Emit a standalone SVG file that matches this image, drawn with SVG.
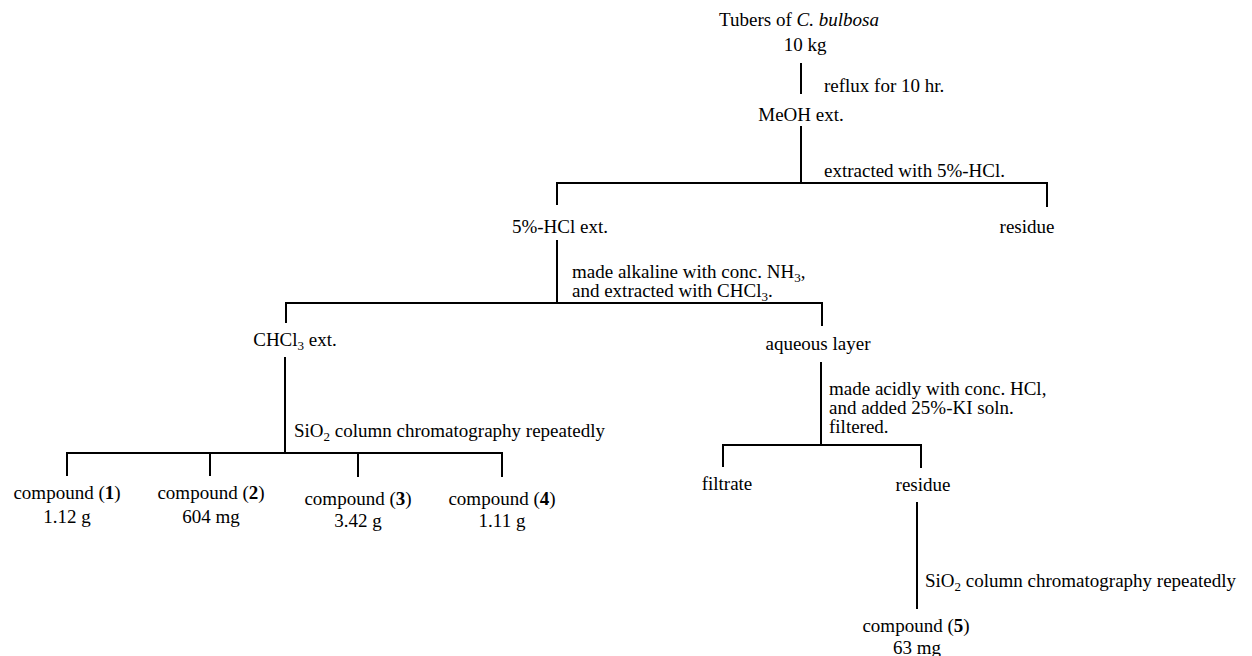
<svg xmlns="http://www.w3.org/2000/svg" width="1252" height="656" viewBox="0 0 1252 656">
<style>
text{font-family:"Liberation Serif","Times New Roman",serif;font-size:19px;fill:#000}
.c{text-anchor:middle}
.b{font-weight:bold}
.s{font-size:13px}
#connectors line{stroke:#000;stroke-width:2;fill:none}
</style>
<rect width="1252" height="656" fill="#fff"/>
<g id="connectors">
<line x1="801" y1="63" x2="801" y2="94"/>
<line x1="801" y1="126" x2="801" y2="183"/>
<line x1="556" y1="183" x2="1048" y2="183"/>
<line x1="557" y1="183" x2="557" y2="205"/>
<line x1="1047" y1="183" x2="1047" y2="207"/>
<line x1="557" y1="240" x2="557" y2="303"/>
<line x1="285" y1="303" x2="823" y2="303"/>
<line x1="286" y1="303" x2="286" y2="323"/>
<line x1="822" y1="303" x2="822" y2="326"/>
<line x1="285" y1="357" x2="285" y2="453"/>
<line x1="66" y1="453" x2="503" y2="453"/>
<line x1="67" y1="453" x2="67" y2="476"/>
<line x1="210" y1="453" x2="210" y2="476"/>
<line x1="358" y1="453" x2="358" y2="477"/>
<line x1="502" y1="453" x2="502" y2="477"/>
<line x1="821" y1="362" x2="821" y2="445"/>
<line x1="722" y1="445" x2="922" y2="445"/>
<line x1="723" y1="445" x2="723" y2="467"/>
<line x1="921" y1="445" x2="921" y2="468"/>
<line x1="917" y1="502" x2="917" y2="609"/>
</g>
<g id="tubers"><text class="c" x="799" y="26">Tubers of <tspan font-style="italic">C. bulbosa</tspan></text><text class="c" x="805" y="51">10 kg</text></g>
<g id="label-reflux"><text x="824" y="92">reflux for 10 hr.</text></g>
<g id="meoh"><text class="c" x="801" y="121">MeOH ext.</text></g>
<g id="label-hcl"><text x="824" y="177">extracted with 5%-HCl.</text></g>
<g id="hcl-ext"><text class="c" x="560" y="233">5%-HCl ext.</text></g>
<g id="residue1"><text class="c" x="1027" y="233">residue</text></g>
<g id="label-alkaline"><text x="572" y="278">made alkaline with conc. NH<tspan class="s" dy="4">3</tspan><tspan dy="-4">,</tspan></text><text x="572" y="297">and extracted with CHCl<tspan class="s" dy="4">3</tspan><tspan dy="-4">.</tspan></text></g>
<g id="chcl3-ext"><text class="c" x="295" y="346">CHCl<tspan class="s" dy="4">3</tspan><tspan dy="-4"> ext.</tspan></text></g>
<g id="aqueous"><text class="c" x="818" y="350">aqueous layer</text></g>
<g id="label-sio2-a"><text x="294" y="437">SiO<tspan class="s" dy="4">2</tspan><tspan dy="-4"> column chromatography repeatedly</tspan></text></g>
<g id="compound1"><text class="c" x="67" y="499">compound (<tspan class="b">1</tspan>)</text><text class="c" x="67" y="523">1.12 g</text></g>
<g id="compound2"><text class="c" x="211" y="499">compound (<tspan class="b">2</tspan>)</text><text class="c" x="211" y="523">604 mg</text></g>
<g id="compound3"><text class="c" x="358" y="505">compound (<tspan class="b">3</tspan>)</text><text class="c" x="358" y="527">3.42 g</text></g>
<g id="compound4"><text class="c" x="502" y="505">compound (<tspan class="b">4</tspan>)</text><text class="c" x="502" y="527">1.11 g</text></g>
<g id="label-acid"><text x="829" y="395">made acidly with conc. HCl,</text><text x="829" y="414">and added 25%-KI soln.</text><text x="829" y="433">filtered.</text></g>
<g id="filtrate"><text class="c" x="727" y="490">filtrate</text></g>
<g id="residue2"><text class="c" x="923" y="491">residue</text></g>
<g id="label-sio2-b"><text x="925" y="587">SiO<tspan class="s" dy="4">2</tspan><tspan dy="-4"> column chromatography repeatedly</tspan></text></g>
<g id="compound5"><text class="c" x="916" y="632">compound (<tspan class="b">5</tspan>)</text><text class="c" x="917" y="654">63 mg</text></g>
</svg>
